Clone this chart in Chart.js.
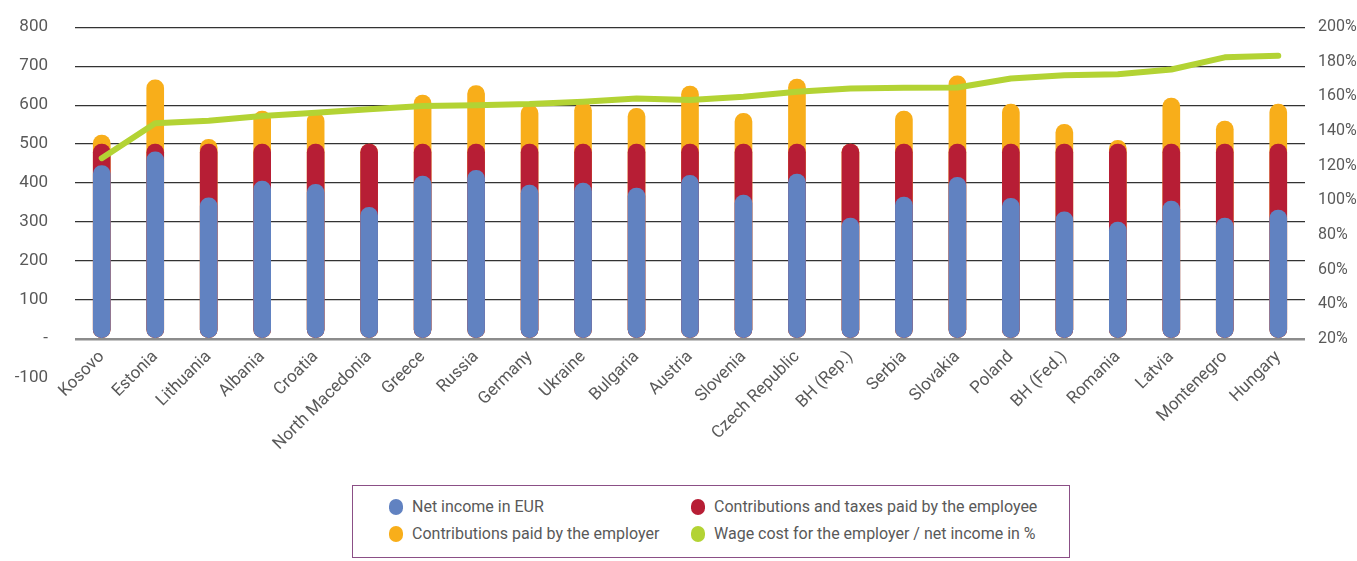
<!DOCTYPE html>
<html>
<head>
<meta charset="utf-8">
<script src="https://cdn.jsdelivr.net/npm/chart.js@4"></script>
<style>
  body { margin: 0; background: #fff; overflow: hidden; }
  #wrap { position: relative; width: 1357px; height: 561px; overflow: hidden; }
  #chartBox { position: absolute; left: 0; top: -10px; width: 1357px; height: 490px; }
  #legend {
    position: absolute; left: 352px; top: 485px; width: 718px; height: 73px;
    border: 1.5px solid #8b4f86; box-sizing: border-box;
    font-family: "Roboto", sans-serif; font-size: 16px; color: #595959;
  }
  .item { position: absolute; height: 18px; line-height: 18px; white-space: nowrap; }
  .item span.mk { position: absolute; left: 0; top: 1px; width: 14px; height: 16px; border-radius: 7px; }
  .item span.tx { position: absolute; left: 23px; top: 0; }
</style>
</head>
<body>
<div id="wrap">
  <div id="chartBox"><canvas id="barChart"></canvas></div>
  <div id="legend"></div>
</div>
<script>
// datos
const countries = ['Kosovo', 'Estonia', 'Lithuania', 'Albania', 'Croatia', 'North Macedonia', 'Greece', 'Russia',
    'Germany', 'Ukraine', 'Bulgaria', 'Austria', 'Slovenia', 'Czech Republic', 'BH (Rep.)', 'Serbia', 'Slovakia',
    'Poland', 'BH (Fed.)', 'Romania', 'Latvia', 'Montenegro', 'Hungary'];

// netos en EUR (barra azul)
const netIncome = [445, 480, 362, 405, 397, 338, 418, 433, 395, 400, 387, 420, 369, 423, 310, 364, 415, 361, 326, 300, 354, 310, 331];
// bruto (barra roja, hasta 500)
const grossWage = [500, 500, 500, 500, 500, 500, 500, 500, 500, 500, 500, 500, 500, 500, 500, 500, 500, 500, 500, 500, 500, 500, 500];
// coste total empleador (barra naranja)
const employerCost = [523, 665, 512, 585, 580, 500, 626, 650, 600, 607, 592, 649, 579, 667, 500, 585, 675, 603, 551, 510, 618, 559, 603];
// coste / neto en %
const costRatio = [124.4, 144.6, 146.0, 148.7, 150.6, 152.7, 154.5, 155.0, 155.6, 157.0, 158.8, 158.0, 159.8, 162.7,
    164.6, 165.0, 165.2, 170.4, 172.3, 172.9, 175.6, 182.6, 183.5];

const legendLabels = ['Net income in EUR', 'Contributions and taxes paid by the employee',
    'Contributions paid by the employer', 'Wage cost for the employer / net income in %'];
const colors = ['#6182c1', '#b71e35', '#f8ae1a', '#b3d334'];

// etiqueta -100 debajo del eje
const minusLabel = {
    id: 'minusLabel',
    afterDraw(chart) {
        const s = chart.scales.y;
        const c = chart.ctx;
        c.save();
        c.font = '17px Roboto';
        c.fillStyle = '#595959';
        c.textAlign = 'right';
        c.textBaseline = 'middle';
        c.fillText('-100', s.right - 27, s.getPixelForValue(-100));
        c.restore();
    }
};

const barOpts = { barThickness: 17, borderRadius: 9, borderSkipped: false, yAxisID: 'y' };

new Chart(document.getElementById('barChart'), {
    type: 'bar',
    data: {
        labels: countries,
        datasets: [
            { type: 'line', label: legendLabels[3], data: costRatio, yAxisID: 'y1', borderColor: colors[3],
              borderWidth: 6, pointRadius: 0, borderCapStyle: 'round', borderJoinStyle: 'round', tension: 0, order: 0 },
            Object.assign({ label: legendLabels[0], data: netIncome, backgroundColor: colors[0], order: 1 }, barOpts),
            Object.assign({ label: legendLabels[1], data: grossWage, backgroundColor: colors[1], order: 2 }, barOpts),
            Object.assign({ label: legendLabels[2], data: employerCost, backgroundColor: colors[2], order: 3 }, barOpts)
        ]
    },
    options: {
        responsive: true,
        maintainAspectRatio: false,
        animation: false,
        layout: { padding: { top: 17, left: 0, right: 0, bottom: 0 } },
        plugins: { legend: { display: false }, tooltip: { enabled: false } },
        scales: {
            x: {
                stacked: true,
                grid: { display: false },
                border: { display: false },
                ticks: { color: '#595959', font: { family: 'Roboto', size: 17 }, maxRotation: 45, minRotation: 45, autoSkip: false, padding: 0 },
                afterFit(scale) { scale.height = 141; }
            },
            y: {
                stacked: false,
                position: 'left',
                min: 0, max: 800,
                ticks: { stepSize: 100, color: '#595959', font: { family: 'Roboto', size: 17 }, padding: 27,
                    callback: v => v === 0 ? '-' : v },
                grid: {
                    drawTicks: false,
                    color: ctx => ctx.tick && ctx.tick.value === 0 ? '#8c8c8c' : '#333',
                    lineWidth: ctx => ctx.tick && ctx.tick.value === 0 ? 2.5 : 1.3
                },
                border: { display: false },
                afterFit(scale) { scale.width = 75; }
            },
            y1: {
                position: 'right',
                min: 20, max: 200,
                ticks: { stepSize: 20, color: '#595959', font: { family: 'Roboto', size: 16 }, padding: 13, callback: v => v + '%' },
                grid: { drawOnChartArea: false, drawTicks: false },
                border: { display: false },
                afterFit(scale) { scale.width = 52; }
            }
        }
    },
    plugins: [minusLabel]
});

// leyenda en html, dos columnas
const pos = [[36, 12], [338, 12], [36, 39], [338, 39]];
const legend = document.getElementById('legend');
legendLabels.forEach((txt, i) => {
    const el = document.createElement('div');
    el.className = 'item';
    el.style.left = pos[i][0] + 'px';
    el.style.top = pos[i][1] + 'px';
    el.innerHTML = '<span class="mk" style="background:' + colors[i] + '"></span><span class="tx">' + txt + '</span>';
    legend.appendChild(el);
});
</script>
</body>
</html>
